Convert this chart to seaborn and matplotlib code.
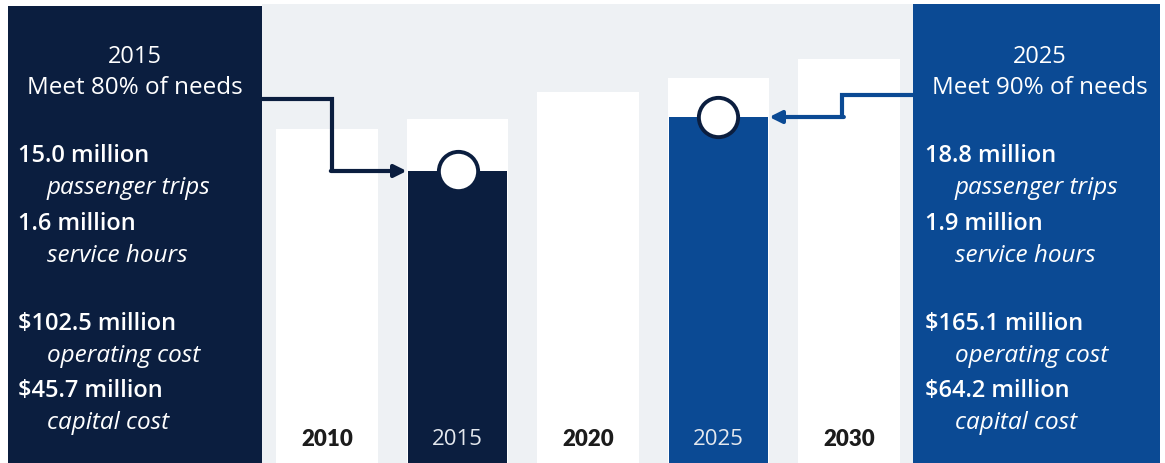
import matplotlib
matplotlib.use("Agg")
import matplotlib.pyplot as plt
from matplotlib.patches import Rectangle
import seaborn as sns
import pandas as pd

# Service need index per year (white bars) and the share actually met (coloured bars)
years = ["2010", "2015", "2020", "2025", "2030"]
need_index = [334, 344, 371, 385, 404]
met_years = ["2015", "2025"]
met_index = [292, 346]

# Panel statements for the two target years
left_title = ["2015", "Meet 80% of needs"]
left_lines = [("15.0 million", "passenger trips"), ("1.6 million", "service hours"),
              ("$102.5 million", "operating cost"), ("$45.7 million", "capital cost")]
right_title = ["2025", "Meet 90% of needs"]
right_lines = [("18.8 million", "passenger trips"), ("1.9 million", "service hours"),
               ("$165.1 million", "operating cost"), ("$64.2 million", "capital cost")]

NAVY = "#0b1e3f"
BLUE = "#0b4a94"
BG = "#eef1f4"

W, H = 1165, 464
sns.set_theme(style="white")
plt.rcParams["font.family"] = ["Open Sans", "DejaVu Sans"]

fig = plt.figure(figsize=(W / 100, H / 100), dpi=100, facecolor="white")


def fx(px):
    return px / W


def fy(py):
    return 1 - py / H


# Chart area between the two panels
ax = fig.add_axes([fx(262), 0, fx(914 - 262), (H - 5) / H])
ax.set_facecolor(BG)

need_df = pd.DataFrame({"year": years, "need": need_index})
met_df = pd.DataFrame({"year": met_years, "met": met_index})

sns.barplot(data=need_df, x="year", y="need", order=years, color="white",
            width=0.78, linewidth=0, saturation=1, ax=ax)
sns.barplot(data=met_df, x="year", y="met", order=years, hue="year",
            palette={"2015": NAVY, "2025": BLUE}, width=0.76, linewidth=0,
            saturation=1, legend=False, ax=ax)

ax.set_xlim(-0.5, 4.5)
ax.set_ylim(0, H - 5)
ax.set_xlabel("")
ax.set_ylabel("")
ax.set_xticks([])
ax.set_yticks([])
for s in ax.spines.values():
    s.set_visible(False)

# Markers on top of the met bars
pos = {y: i for i, y in enumerate(years)}
mx = [pos[y] for y in met_years]
ax.scatter(mx, met_index, s=800, facecolor="white", edgecolor=NAVY,
           linewidth=2.8, zorder=6, clip_on=False)

# Year labels inside the bars
for i, y in enumerate(years):
    if y in met_years:
        ax.text(i, 24, y, ha="center", va="center", fontsize=16,
                color="#e4e8ee", fontweight="normal")
    else:
        ax.text(i, 24, y, ha="center", va="center", fontsize=16,
                color="#1c1c1c", fontweight="heavy",
                family=["Lato", "DejaVu Sans"])

# Connector arrows from the panels to the met bars
half = 0.39
lw = 3.0
# left connector
i15 = pos["2015"]
yl = H - 100
elbow_l = 0.04
ax.plot([-0.5, elbow_l, elbow_l], [yl, yl, met_index[0]], color=NAVY, lw=lw,
        solid_joinstyle="miter", solid_capstyle="butt", clip_on=False, zorder=4)
ax.annotate("", xy=(i15 - half, met_index[0]), xytext=(elbow_l - 0.012, met_index[0]),
            arrowprops=dict(arrowstyle="-|>,head_length=0.6,head_width=0.3",
                            color=NAVY, lw=lw, shrinkA=0, shrinkB=0), zorder=4)
# right connector
i25 = pos["2025"]
yr = H - 96
elbow_r = 3.95
ax.plot([4.5, elbow_r, elbow_r], [yr, yr, met_index[1]], color=BLUE, lw=lw,
        solid_joinstyle="miter", solid_capstyle="butt", clip_on=False, zorder=4)
ax.annotate("", xy=(i25 + half, met_index[1]), xytext=(elbow_r + 0.012, met_index[1]),
            arrowprops=dict(arrowstyle="-|>,head_length=0.6,head_width=0.3",
                            color=BLUE, lw=lw, shrinkA=0, shrinkB=0), zorder=4)

# Side panels
fig.patches.append(Rectangle((fx(8), 0), fx(262 - 8), (H - 7) / H,
                             transform=fig.transFigure, facecolor=NAVY,
                             edgecolor="none", zorder=0))
fig.patches.append(Rectangle((fx(913), 0), fx(1160 - 913), (H - 5) / H,
                             transform=fig.transFigure, facecolor=BLUE,
                             edgecolor="none", zorder=0))


def panel(cx, x0, x1, title, lines):
    fig.text(fx(cx), fy(63), title[0], ha="center", va="baseline",
             fontsize=17, color="white")
    fig.text(fx(cx), fy(94), title[1], ha="center", va="baseline",
             fontsize=17.5, color="white")
    bases = [162, 230, 330, 397]
    for (big, small), b in zip(lines, bases):
        fig.text(fx(x0), fy(b), big, ha="left", va="baseline",
                 fontsize=17, color="white", fontweight="semibold")
        fig.text(fx(x1), fy(b + 32), small, ha="left", va="baseline",
                 fontsize=17.5, color="white", style="italic")


panel(135, 18, 47, left_title, left_lines)
panel(1040, 925, 955, right_title, right_lines)

fig.savefig("out.png", dpi=100, facecolor="white")
